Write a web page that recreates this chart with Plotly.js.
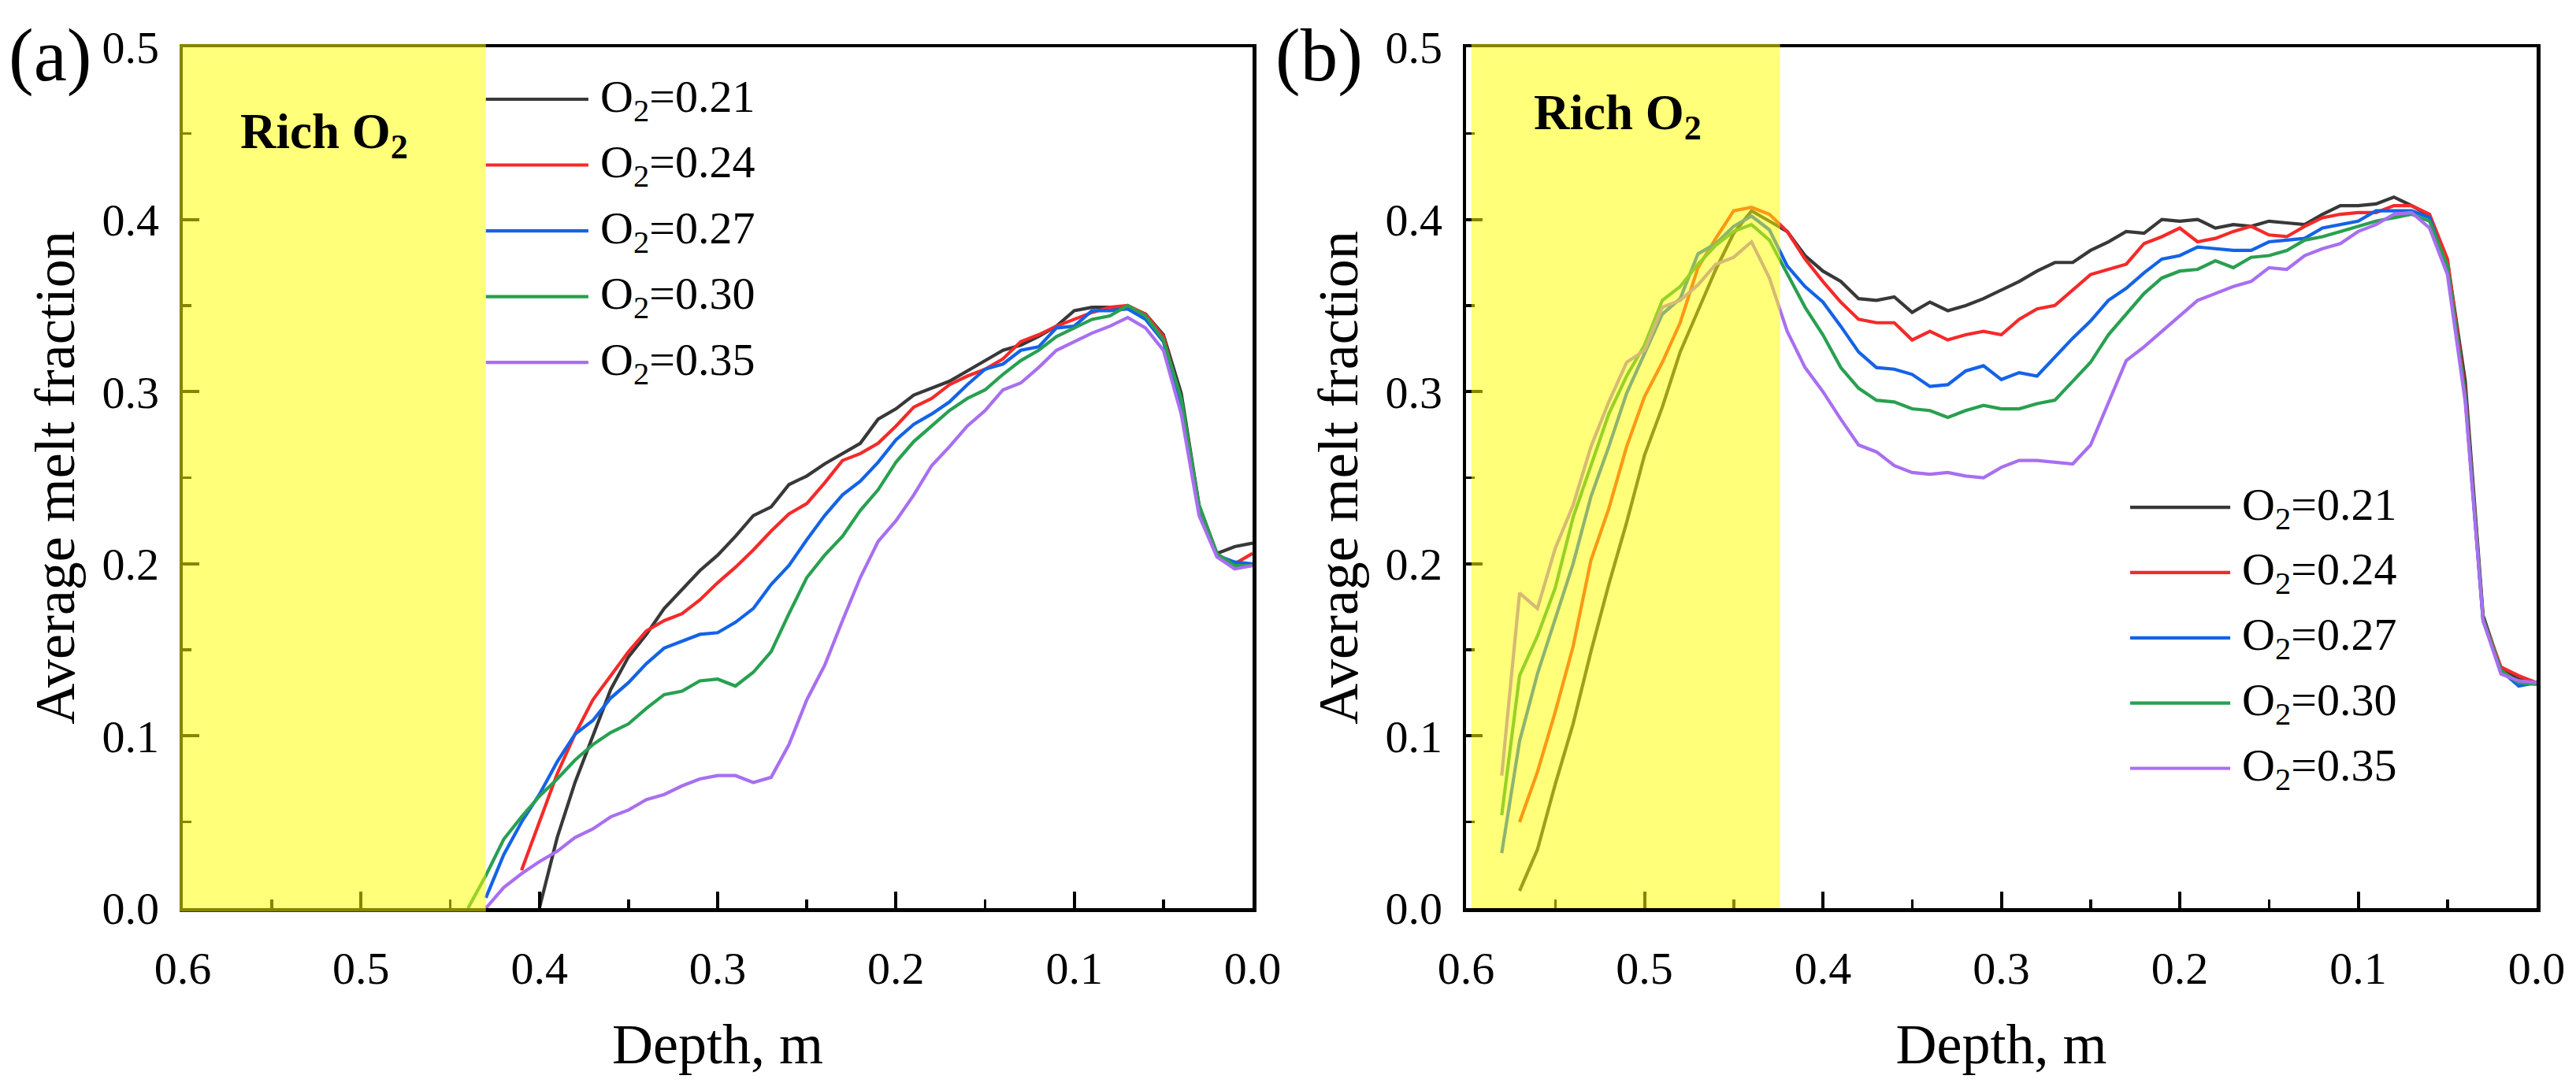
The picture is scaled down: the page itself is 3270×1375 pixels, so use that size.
<!DOCTYPE html>
<html>
<head>
<meta charset="utf-8">
<script src="https://cdn.plot.ly/plotly-3.0.1.min.js"></script>
<style>html,body{margin:0;padding:0;background:#fff;}</style>
</head>
<body>
<div id="chart" style="width:3270px;height:1375px;"></div>
<script>
// ---------------- DATA ----------------
const seriesNames = ['O<sub>2</sub>=0.21', 'O<sub>2</sub>=0.24', 'O<sub>2</sub>=0.27', 'O<sub>2</sub>=0.30', 'O<sub>2</sub>=0.35'];

// Panel (a): depth (m)
const depthA = [0.44,0.43,0.42,0.41,0.40,0.39,0.38,0.37,0.36,0.35,0.34,0.33,0.32,0.31,0.30,0.29,0.28,0.27,0.26,0.25,
  0.24,0.23,0.22,0.21,0.20,0.19,0.18,0.17,0.16,0.15,0.14,0.13,0.12,0.11,0.10,0.09,0.08,0.07,0.06,0.05,
  0.04,0.03,0.02,0.01,0.00];
const a_021 = [null,null,null,null,0.000,0.041,0.073,0.100,0.127,0.146,0.159,0.174,0.185,0.196,0.205,0.216,0.228,0.233,0.246,0.251,
  0.258,0.264,0.270,0.284,0.290,0.298,0.302,0.306,0.312,0.318,0.324,0.327,0.332,0.338,0.347,0.349,0.349,0.349,0.345,0.333,
  0.299,0.234,0.206,0.210,0.212];
const a_024 = [null,null,null,0.022,0.050,0.078,0.101,0.121,0.135,0.149,0.161,0.167,0.171,0.179,0.189,0.198,0.208,0.219,0.229,0.235,
  0.247,0.260,0.264,0.270,0.280,0.291,0.296,0.304,0.309,0.313,0.319,0.329,0.333,0.338,0.342,0.346,0.349,0.350,0.345,0.332,
  0.293,0.232,0.205,0.200,0.206];
const a_027 = [null,0.006,0.031,0.050,0.066,0.085,0.101,0.109,0.122,0.131,0.142,0.151,0.155,0.159,0.160,0.166,0.174,0.188,0.199,0.214,
  0.228,0.240,0.248,0.259,0.272,0.281,0.287,0.294,0.304,0.313,0.316,0.324,0.326,0.337,0.338,0.347,0.347,0.348,0.342,0.329,
  0.290,0.231,0.205,0.201,0.200];
const a_030 = [0.000,0.019,0.040,0.053,0.065,0.075,0.086,0.095,0.102,0.107,0.116,0.124,0.126,0.132,0.133,0.129,0.137,0.149,0.171,0.192,
  0.205,0.216,0.231,0.243,0.259,0.271,0.280,0.289,0.296,0.301,0.310,0.318,0.324,0.332,0.337,0.342,0.344,0.350,0.344,0.330,
  0.296,0.234,0.206,0.199,0.199];
const a_035 = [null,0.000,0.012,0.020,0.027,0.033,0.041,0.046,0.053,0.057,0.063,0.066,0.071,0.075,0.077,0.077,0.073,0.076,0.095,0.121,
  0.141,0.167,0.192,0.213,0.225,0.240,0.257,0.268,0.280,0.289,0.301,0.305,0.314,0.324,0.329,0.334,0.338,0.343,0.337,0.324,
  0.287,0.228,0.204,0.197,0.199];

// Panel (b): depth (m)
const depthB = [0.58,0.57,0.56,0.55,0.54,0.53,0.52,0.51,0.50,0.49,0.48,0.47,0.46,0.45,0.44,0.43,0.42,0.41,0.40,0.39,
  0.38,0.37,0.36,0.35,0.34,0.33,0.32,0.31,0.30,0.29,0.28,0.27,0.26,0.25,0.24,0.23,0.22,0.21,0.20,0.19,
  0.18,0.17,0.16,0.15,0.14,0.13,0.12,0.11,0.10,0.09,0.08,0.07,0.06,0.05,0.04,0.03,0.02,0.01,0.00];
const b_021 = [null,0.010,0.034,0.072,0.107,0.149,0.188,0.224,0.263,0.291,0.323,0.347,0.371,0.392,0.405,0.399,0.393,0.379,0.370,0.364,
  0.354,0.353,0.355,0.346,0.352,0.347,0.350,0.354,0.359,0.364,0.370,0.375,0.375,0.382,0.387,0.393,0.392,0.400,0.399,0.400,
  0.395,0.397,0.396,0.399,0.398,0.397,0.403,0.408,0.408,0.409,0.413,0.408,0.402,0.376,0.306,0.170,0.139,0.133,0.131];
const b_024 = [null,0.050,0.079,0.114,0.152,0.202,0.232,0.268,0.297,0.317,0.340,0.372,0.389,0.405,0.407,0.403,0.393,0.377,0.364,0.352,
  0.342,0.340,0.340,0.330,0.335,0.330,0.333,0.335,0.333,0.342,0.348,0.350,0.359,0.368,0.371,0.374,0.386,0.390,0.395,0.387,
  0.389,0.393,0.396,0.391,0.390,0.396,0.401,0.403,0.404,0.404,0.408,0.408,0.403,0.377,0.300,0.168,0.140,0.135,0.131];
const b_027 = [0.032,0.097,0.136,0.168,0.200,0.239,0.268,0.299,0.322,0.345,0.354,0.380,0.386,0.396,0.402,0.394,0.373,0.361,0.352,0.338,
  0.323,0.314,0.313,0.310,0.303,0.304,0.312,0.315,0.307,0.311,0.309,0.320,0.331,0.341,0.353,0.360,0.369,0.377,0.379,0.384,
  0.383,0.382,0.382,0.387,0.388,0.389,0.395,0.397,0.399,0.405,0.405,0.405,0.401,0.371,0.297,0.167,0.138,0.129,0.131];
const b_030 = [0.054,0.135,0.158,0.186,0.227,0.257,0.287,0.309,0.327,0.353,0.361,0.374,0.385,0.393,0.397,0.388,0.368,0.349,0.333,0.314,
  0.302,0.295,0.294,0.290,0.289,0.285,0.289,0.292,0.290,0.290,0.293,0.295,0.306,0.317,0.333,0.345,0.357,0.366,0.370,0.371,
  0.376,0.372,0.378,0.379,0.382,0.388,0.390,0.393,0.396,0.399,0.401,0.403,0.399,0.373,0.297,0.168,0.138,0.131,0.130];
const b_035 = [0.077,0.183,0.174,0.209,0.234,0.268,0.294,0.317,0.324,0.349,0.353,0.362,0.374,0.378,0.387,0.366,0.335,0.314,0.300,0.284,
  0.269,0.265,0.257,0.253,0.252,0.253,0.251,0.250,0.256,0.260,0.260,0.259,0.258,0.269,0.294,0.318,0.326,0.335,0.344,0.353,
  0.357,0.361,0.364,0.372,0.371,0.379,0.383,0.386,0.393,0.397,0.403,0.404,0.395,0.368,0.294,0.167,0.136,0.132,0.131];

const seriesA = [a_021, a_024, a_027, a_030, a_035];
const seriesB = [b_021, b_024, b_027, b_030, b_035];
const richLabel = '<b>Rich O<sub>2</sub></b>';
const panelLabels = ['(a)', '(b)'];
const richEndA = 0.43;   // rich-O2 zone boundary, panel (a)
const richEndB = 0.424;  // rich-O2 zone boundary, panel (b)

// ---------------- STYLE ----------------
const colors = ['#383838', '#f42a2a', '#1463e6', '#28a050', '#a86ff0'];
const FONT = '"Liberation Serif", "Times New Roman", Times, serif';
const W = 3270, H = 1375;
const M = {l: 232, r: 50, t: 60, b: 222};
const plotW = W - M.l - M.r, plotH = H - M.t - M.b;
const domA = [0, 1358 / plotW];
const domB = [(1861 - M.l) / plotW, 1];
const xRange = [0.6, 0];
const LW = 4.2;

const traces = [];
seriesA.forEach((ys, i) => traces.push({
  x: depthA, y: ys, type: 'scatter', mode: 'lines', name: seriesNames[i],
  line: {color: colors[i], width: LW}, connectgaps: false, xaxis: 'x', yaxis: 'y', showlegend: false
}));
seriesB.forEach((ys, i) => traces.push({
  x: depthB, y: ys, type: 'scatter', mode: 'lines', name: seriesNames[i],
  line: {color: colors[i], width: LW}, connectgaps: false, xaxis: 'x2', yaxis: 'y2', showlegend: false
}));

function axisBase() {
  return {
    showline: true, linecolor: '#000', linewidth: 4.5, mirror: true,
    ticks: 'inside', ticklen: 21, tickwidth: 4, tickcolor: '#000',
    showgrid: false, zeroline: false,
    tickfont: {family: FONT, size: 58, color: '#000'},
    minor: {ticks: 'inside', ticklen: 11, tickwidth: 3.5, tickcolor: '#000', showgrid: false}
  };
}
function xAxis(dom, anchor) {
  return Object.assign(axisBase(), {
    domain: dom, range: xRange, anchor: anchor, tick0: 0, dtick: 0.1, tickformat: '.1f',
    ticklabelstandoff: 22,
    minor: Object.assign(axisBase().minor, {dtick: 0.05, tick0: 0}),
    title: {text: 'Depth, m', font: {family: FONT, size: 72, color: '#000'}, standoff: 40}
  });
}
function yAxis(anchor) {
  return Object.assign(axisBase(), {
    domain: [0, 1], range: [0, 0.5], anchor: anchor, tick0: 0, dtick: 0.1, tickformat: '.1f',
    ticklabelstandoff: 14,
    minor: Object.assign(axisBase().minor, {dtick: 0.05, tick0: 0}),
    title: {text: 'Average melt fraction', font: {family: FONT, size: 72, color: '#000'}, standoff: 12}
  });
}

function paperX(dom, d) { return dom[0] + (xRange[0] - d) / (xRange[0] - xRange[1]) * (dom[1] - dom[0]); }
const padX = 4.5 / plotW, padY = 4.5 / plotH;

const shapes = [];
const annotations = [];

// Rich-O2 zones (semi-transparent yellow, drawn above the curves)
shapes.push({type: 'rect', xref: 'paper', yref: 'paper', layer: 'above',
  x0: paperX(domA, 0.6) - padX, x1: paperX(domA, richEndA), y0: -padY, y1: 1 + padY,
  fillcolor: 'rgb(255,255,0)', opacity: 0.52, line: {width: 0}});
shapes.push({type: 'rect', xref: 'paper', yref: 'paper', layer: 'above',
  x0: paperX(domB, 0.597), x1: paperX(domB, richEndB), y0: 0, y1: 1 + padY,
  fillcolor: 'rgb(255,255,0)', opacity: 0.52, line: {width: 0}});

// Custom legends (long sample lines like the original)
const legA = {x0: 0.43, x1: 0.3725, xt: 0.3665, y0: 0.4698, dy: 0.0382, xref: 'x', yref: 'y'};
const legB = {x0: 0.2278, x1: 0.1717, xt: 0.166, y0: 0.2328, dy: 0.0379, xref: 'x2', yref: 'y2'};
[legA, legB].forEach(L => {
  seriesNames.forEach((nm, i) => {
    const yy = L.y0 - i * L.dy;
    shapes.push({type: 'line', xref: L.xref, yref: L.yref, x0: L.x0, x1: L.x1, y0: yy, y1: yy,
      line: {color: colors[i], width: LW}, layer: 'above'});
    annotations.push({xref: L.xref, yref: L.yref, x: L.xt, y: yy, text: nm, showarrow: false,
      xanchor: 'left', yanchor: 'middle', font: {family: FONT, size: 58, color: '#000'}});
  });
});

// "Rich O2" labels
annotations.push({xref: 'x', yref: 'y', x: 0.5686, y: 0.449, text: richLabel, showarrow: false,
  xanchor: 'left', yanchor: 'middle', font: {family: FONT, size: 63, color: '#000'}});
annotations.push({xref: 'x2', yref: 'y2', x: 0.563, y: 0.460, text: richLabel, showarrow: false,
  xanchor: 'left', yanchor: 'middle', font: {family: FONT, size: 63, color: '#000'}});

// Panel labels
annotations.push({xref: 'paper', yref: 'paper', x: (63 - M.l) / plotW, y: (H - M.b - 70) / plotH,
  text: panelLabels[0], showarrow: false, xanchor: 'center', yanchor: 'middle',
  font: {family: FONT, size: 95, color: '#000'}});
annotations.push({xref: 'paper', yref: 'paper', x: (1674 - M.l) / plotW, y: (H - M.b - 70) / plotH,
  text: panelLabels[1], showarrow: false, xanchor: 'center', yanchor: 'middle',
  font: {family: FONT, size: 95, color: '#000'}});

const layout = {
  width: W, height: H, margin: M,
  paper_bgcolor: '#fff', plot_bgcolor: '#fff',
  font: {family: FONT, size: 58, color: '#000'},
  showlegend: false,
  xaxis: xAxis(domA, 'y'),
  yaxis: yAxis('x'),
  xaxis2: xAxis(domB, 'y2'),
  yaxis2: yAxis('x2'),
  shapes: shapes,
  annotations: annotations
};

Plotly.newPlot('chart', traces, layout, {displayModeBar: false, staticPlot: true});
</script>
</body>
</html>
